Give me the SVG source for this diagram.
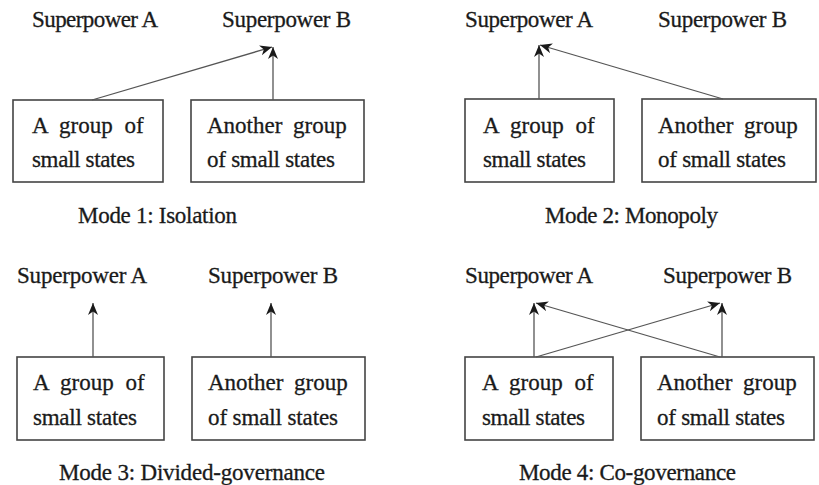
<svg xmlns="http://www.w3.org/2000/svg" width="819" height="485" viewBox="0 0 819 485">
<style>
text{font-family:"Liberation Serif","Times New Roman",serif;font-size:23px;fill:#1a1a1a;stroke:#1a1a1a;stroke-width:0.3}
.j1{word-spacing:6px}
.j2{word-spacing:5px}
.box{fill:#fff;stroke:#444;stroke-width:1.6}
.con{stroke:#555;stroke-width:1.3;fill:none;marker-end:url(#ah)}
</style>
<defs>
<marker id="ah" markerUnits="userSpaceOnUse" markerWidth="13" markerHeight="11" refX="12" refY="5" orient="auto">
<path d="M0,0 L12,5 L0,10 L3.5,5 z" fill="#1a1a1a"/>
</marker>
</defs>
<rect width="819" height="485" fill="#fff"/>

<!-- Panel 1 -->
<g id="p1-spA"><text x="32" y="27" textLength="126" lengthAdjust="spacing">Superpower A</text></g>
<g id="p1-spB"><text x="222" y="27" textLength="129" lengthAdjust="spacing">Superpower B</text></g>
<g id="p1-g1"><rect class="box" x="13" y="100" width="150" height="82"/>
<text class="j1" x="32" y="133">A group of</text>
<text x="32" y="167" textLength="103" lengthAdjust="spacing">small states</text></g>
<g id="p1-g2"><rect class="box" x="191" y="100" width="173" height="82"/>
<text class="j2" x="207" y="133">Another group</text>
<text x="207" y="167" textLength="128" lengthAdjust="spacing">of small states</text></g>
<g id="p1-cap"><text x="78" y="223" textLength="159" lengthAdjust="spacing">Mode 1: Isolation</text></g>

<!-- Panel 2 -->
<g id="p2-spA"><text x="465" y="27" textLength="128" lengthAdjust="spacing">Superpower A</text></g>
<g id="p2-spB"><text x="658" y="27" textLength="129" lengthAdjust="spacing">Superpower B</text></g>
<g id="p2-g1"><rect class="box" x="465" y="99" width="149" height="83"/>
<text class="j1" x="483" y="133">A group of</text>
<text x="483" y="167" textLength="103" lengthAdjust="spacing">small states</text></g>
<g id="p2-g2"><rect class="box" x="642" y="99" width="174" height="83"/>
<text class="j2" x="658" y="133">Another group</text>
<text x="658" y="167" textLength="128" lengthAdjust="spacing">of small states</text></g>
<g id="p2-cap"><text x="545" y="223" textLength="173" lengthAdjust="spacing">Mode 2: Monopoly</text></g>

<!-- Panel 3 -->
<g id="p3-spA"><text x="17" y="283" textLength="130" lengthAdjust="spacing">Superpower A</text></g>
<g id="p3-spB"><text x="208" y="283" textLength="130" lengthAdjust="spacing">Superpower B</text></g>
<g id="p3-g1"><rect class="box" x="17" y="357" width="147" height="83"/>
<text class="j1" x="33" y="390">A group of</text>
<text x="33" y="425" textLength="104" lengthAdjust="spacing">small states</text></g>
<g id="p3-g2"><rect class="box" x="192" y="357" width="173" height="83"/>
<text class="j2" x="208" y="390">Another group</text>
<text x="208" y="425" textLength="130" lengthAdjust="spacing">of small states</text></g>
<g id="p3-cap"><text x="59" y="480" textLength="266" lengthAdjust="spacing">Mode 3: Divided-governance</text></g>

<!-- Panel 4 -->
<g id="p4-spA"><text x="465" y="283" textLength="128" lengthAdjust="spacing">Superpower A</text></g>
<g id="p4-spB"><text x="663" y="283" textLength="129" lengthAdjust="spacing">Superpower B</text></g>
<g id="p4-g1"><rect class="box" x="465" y="357" width="148" height="83"/>
<text class="j1" x="482" y="390">A group of</text>
<text x="482" y="425" textLength="103" lengthAdjust="spacing">small states</text></g>
<g id="p4-g2"><rect class="box" x="641" y="357" width="173" height="83"/>
<text class="j2" x="657" y="390">Another group</text>
<text x="657" y="425" textLength="128" lengthAdjust="spacing">of small states</text></g>
<g id="p4-cap"><text x="519" y="480" textLength="217" lengthAdjust="spacing">Mode 4: Co-governance</text></g>

<g id="connectors">
<line class="con" x1="92" y1="100" x2="272" y2="47"/>
<line class="con" x1="273" y1="100" x2="273" y2="47"/>
<line class="con" x1="539" y1="99" x2="539" y2="45"/>
<line class="con" x1="723" y1="99" x2="540" y2="45"/>
<line class="con" x1="93" y1="357" x2="93" y2="303"/>
<line class="con" x1="271" y1="357" x2="271" y2="303"/>
<line class="con" x1="534" y1="357" x2="534" y2="303"/>
<line class="con" x1="720" y1="357" x2="536" y2="303"/>
<line class="con" x1="722" y1="357" x2="722" y2="303"/>
<line class="con" x1="536" y1="357" x2="720" y2="303"/>
</g>
</svg>
